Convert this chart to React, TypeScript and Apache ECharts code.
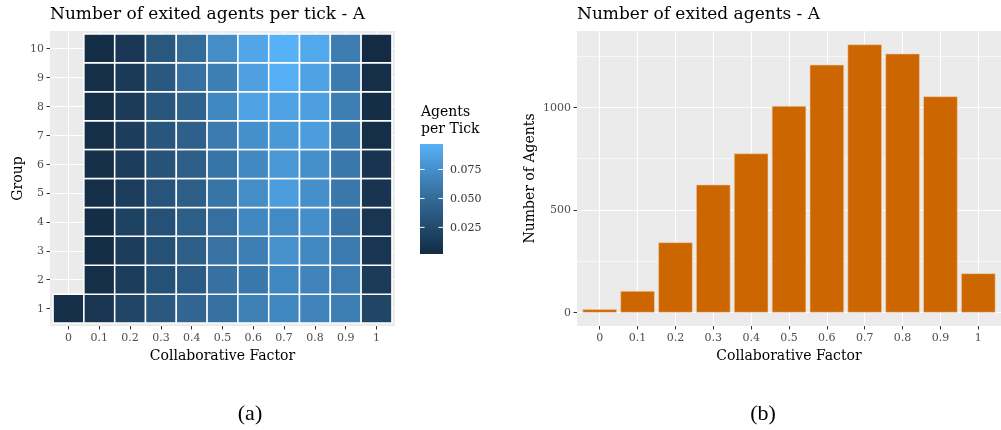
import React, { useEffect, useRef } from "react";
import * as echarts from "echarts";

// ---------- data ----------
const factors = [0, 0.1, 0.2, 0.3, 0.4, 0.5, 0.6, 0.7, 0.8, 0.9, 1];
const factorLabels = ["0", "0.1", "0.2", "0.3", "0.4", "0.5", "0.6", "0.7", "0.8", "0.9", "1"];
const groups = [1, 2, 3, 4, 5, 6, 7, 8, 9, 10];
const groupLabels = ["1", "2", "3", "4", "5", "6", "7", "8", "9", "10"];

// agents per tick, one row per group (1..10), one column per collaborative factor
const group1 = [0.005, 0.010, 0.021, 0.036, 0.046, 0.054, 0.065, 0.069, 0.067, 0.064, 0.021];
const group2 = [null, 0.005, 0.015, 0.030, 0.038, 0.054, 0.059, 0.069, 0.067, 0.062, 0.014];
const group3 = [null, 0.004, 0.015, 0.030, 0.040, 0.055, 0.064, 0.076, 0.070, 0.061, 0.010];
const group4 = [null, 0.004, 0.019, 0.030, 0.040, 0.053, 0.069, 0.071, 0.074, 0.056, 0.010];
const group5 = [null, 0.005, 0.016, 0.033, 0.040, 0.057, 0.073, 0.084, 0.075, 0.059, 0.009];
const group6 = [null, 0.006, 0.016, 0.032, 0.040, 0.057, 0.070, 0.080, 0.075, 0.059, 0.009];
const group7 = [null, 0.005, 0.015, 0.034, 0.042, 0.061, 0.075, 0.081, 0.084, 0.059, 0.005];
const group8 = [null, 0.005, 0.014, 0.034, 0.043, 0.069, 0.088, 0.088, 0.085, 0.064, 0.004];
const group9 = [null, 0.005, 0.013, 0.036, 0.054, 0.064, 0.086, 0.096, 0.088, 0.061, 0.005];
const group10 = [null, 0.004, 0.012, 0.035, 0.050, 0.073, 0.090, 0.097, 0.091, 0.062, 0.002];
const agentsPerTick = [group1, group2, group3, group4, group5, group6, group7, group8, group9, group10];

const exitedCounts = [16, 105, 342, 623, 775, 1006, 1207, 1306, 1261, 1053, 191];

const legendTicks = [0.025, 0.05, 0.075];
const legendTickLabels = ["0.025", "0.050", "0.075"];
const countTicks = [0, 500, 1000];
const countTickLabels = ["0", "500", "1000"];
const countMinorTicks = [250, 750, 1250];

// ---------- styles ----------
const FONT = "DejaVu Serif";
const gradientColors = ["#132B43", "#234B6E", "#336A98", "#448DC7", "#56B1F7"];

export default function App() {
  const ref = useRef<HTMLDivElement>(null);

  useEffect(() => {
    if (!ref.current) return;
    const chart = echarts.init(ref.current, null, { renderer: "svg" });

    const step = factors[1] - factors[0];
    const xMin = factors[0] - 0.6 * step;
    const xMax = factors[factors.length - 1] + 0.6 * step;
    const yMinG = groups[0] - 0.6;
    const yMaxG = groups[groups.length - 1] + 0.6;

    const heatData: number[][] = [];
    agentsPerTick.forEach((row, gi) => {
      row.forEach((v, fi) => {
        if (v !== null) heatData.push([factors[fi], groups[gi], v as number]);
      });
    });
    const vals = heatData.map((d) => d[2]);
    const vMin = Math.min(...vals);
    const vMax = Math.max(...vals);

    const cMax = Math.max(...exitedCounts);
    const cMinAxis = -0.05 * cMax;
    const cMaxAxis = 1.05 * cMax;

    const hm = { left: 50, top: 31, width: 345, height: 295 };
    const bg = { left: 577, top: 31, width: 427, height: 295 };
    const barWidth = 0.9 * (bg.width / ((xMax - xMin) / step));

    const lab = (v: number) => {
      const i = factors.findIndex((f) => Math.abs(f - v) < 1e-9);
      return i >= 0 ? factorLabels[i] : "";
    };
    const glab = (v: number) => {
      const i = groups.findIndex((g) => Math.abs(g - v) < 1e-9);
      return i >= 0 ? groupLabels[i] : "";
    };
    const clab = (v: number) => {
      const i = countTicks.findIndex((g) => Math.abs(g - v) < 1e-9);
      return i >= 0 ? countTickLabels[i] : "";
    };

    const tickStyle = { show: true, length: 3.5, lineStyle: { color: "#333333", width: 1 } };
    const labelStyle = { color: "#4D4D4D", fontFamily: FONT, fontSize: 11 };
    const nameStyle = { color: "#000", fontFamily: FONT, fontSize: 14 };
    const split = { show: true, lineStyle: { color: "#FFFFFF", width: 1.1 } };
    const noLine = { show: false, onZero: false };

    // legend geometry
    const lb = { x: 420, y: 144, w: 23, h: 110 };
    const legendY = (v: number) => lb.y + lb.h * (1 - (v - vMin) / (vMax - vMin));

    const legendElems: any[] = [
      {
        type: "text",
        left: 421,
        top: 102,
        style: { text: "Agents\nper Tick", font: `14px "${FONT}"`, fill: "#000", lineHeight: 17 },
      },
      {
        type: "rect",
        shape: { x: lb.x, y: lb.y, width: lb.w, height: lb.h },
        style: {
          fill: new echarts.graphic.LinearGradient(
            0, 1, 0, 0,
            gradientColors.map((c, i) => ({ offset: i / (gradientColors.length - 1), color: c }))
          ),
        },
      },
    ];
    legendTicks.forEach((t, i) => {
      const y = legendY(t);
      legendElems.push(
        { type: "line", shape: { x1: lb.x, y1: y, x2: lb.x + 4.6, y2: y }, style: { stroke: "#FFFFFF", lineWidth: 1 } },
        { type: "line", shape: { x1: lb.x + lb.w - 4.6, y1: y, x2: lb.x + lb.w, y2: y }, style: { stroke: "#FFFFFF", lineWidth: 1 } },
        {
          type: "text",
          x: lb.x + lb.w + 7,
          y: y,
          style: { text: legendTickLabels[i], font: `11px "${FONT}"`, fill: "#333333", textVerticalAlign: "middle" },
        }
      );
    });

    chart.setOption({
      animation: false,
      title: [
        { text: "Number of exited agents per tick - A", left: 50, top: 4, padding: 0, textStyle: { fontFamily: FONT, fontSize: 17, fontWeight: "normal", color: "#000" } },
        { text: "Number of exited agents - A", left: 577, top: 4, padding: 0, textStyle: { fontFamily: FONT, fontSize: 17, fontWeight: "normal", color: "#000" } },
      ],
      grid: [
        { ...hm, show: true, backgroundColor: "#EBEBEB", borderWidth: 0 },
        { ...bg, show: true, backgroundColor: "#EBEBEB", borderWidth: 0 },
      ],
      xAxis: [
        {
          type: "value", gridIndex: 0, min: xMin, max: xMax, position: "bottom",
          axisLine: noLine,
          axisTick: { ...tickStyle, customValues: factors },
          axisLabel: { ...labelStyle, margin: 6, customValues: factors, formatter: lab },
          splitLine: split,
          name: "Collaborative Factor", nameLocation: "middle", nameGap: 22, nameTextStyle: nameStyle,
        },
        {
          type: "value", gridIndex: 1, min: xMin, max: xMax, position: "bottom",
          axisLine: noLine,
          axisTick: { ...tickStyle, customValues: factors },
          axisLabel: { ...labelStyle, margin: 6, customValues: factors, formatter: lab },
          splitLine: split,
          name: "Collaborative Factor", nameLocation: "middle", nameGap: 22, nameTextStyle: nameStyle,
        },
      ],
      yAxis: [
        {
          type: "value", gridIndex: 0, min: yMinG, max: yMaxG, position: "left",
          axisLine: noLine,
          axisTick: { ...tickStyle, customValues: groups },
          axisLabel: { ...labelStyle, margin: 6, customValues: groups, formatter: glab },
          splitLine: split,
          name: "Group", nameLocation: "middle", nameGap: 26, nameTextStyle: nameStyle,
        },
        {
          type: "value", gridIndex: 1, min: cMinAxis, max: cMaxAxis, position: "left",
          axisLine: noLine,
          axisTick: { ...tickStyle, customValues: countTicks },
          axisLabel: { ...labelStyle, margin: 6, customValues: countTicks, formatter: clab },
          splitLine: split,
          name: "Number of Agents", nameLocation: "middle", nameGap: 41, nameTextStyle: nameStyle,
        },
        {
          type: "value", gridIndex: 1, min: cMinAxis, max: cMaxAxis, position: "left",
          axisLine: noLine,
          axisTick: { show: false, customValues: countMinorTicks },
          axisLabel: { show: false, customValues: countMinorTicks },
          splitLine: { show: true, lineStyle: { color: "#FFFFFF", width: 0.6 } },
        },
      ],
      visualMap: {
        type: "continuous",
        show: false,
        min: vMin,
        max: vMax,
        dimension: 2,
        seriesIndex: 0,
        inRange: { color: gradientColors },
      },
      series: [
        {
          type: "custom",
          xAxisIndex: 0,
          yAxisIndex: 0,
          encode: { x: 0, y: 1 },
          data: heatData,
          renderItem: (params: any, api: any) => {
            const c = api.coord([api.value(0), api.value(1)]);
            const s = api.size([step, 1]);
            return {
              type: "rect",
              shape: { x: c[0] - s[0] / 2, y: c[1] - s[1] / 2, width: s[0], height: s[1] },
              style: { fill: api.visual("color"), stroke: "#FFFFFF", lineWidth: 1.5 },
            };
          },
        },
        {
          type: "bar",
          xAxisIndex: 1,
          yAxisIndex: 1,
          barWidth: barWidth,
          data: factors.map((f, i) => [f, exitedCounts[i]]),
          itemStyle: { color: "#CC6600", borderColor: "#EFCFAF", borderWidth: 0.6 },
        },
      ],
      graphic: [
        ...legendElems,
        { type: "text", x: 250, y: 412, style: { text: "(a)", font: '22px "Liberation Serif"', fill: "#000", textAlign: "center", textVerticalAlign: "middle" } },
        { type: "text", x: 763, y: 412, style: { text: "(b)", font: '22px "Liberation Serif"', fill: "#000", textAlign: "center", textVerticalAlign: "middle" } },
      ],
    });

    return () => chart.dispose();
  }, []);

  return <div ref={ref} style={{ position: "fixed", left: 0, top: 0, width: 1001, height: 430 }} />;
}
